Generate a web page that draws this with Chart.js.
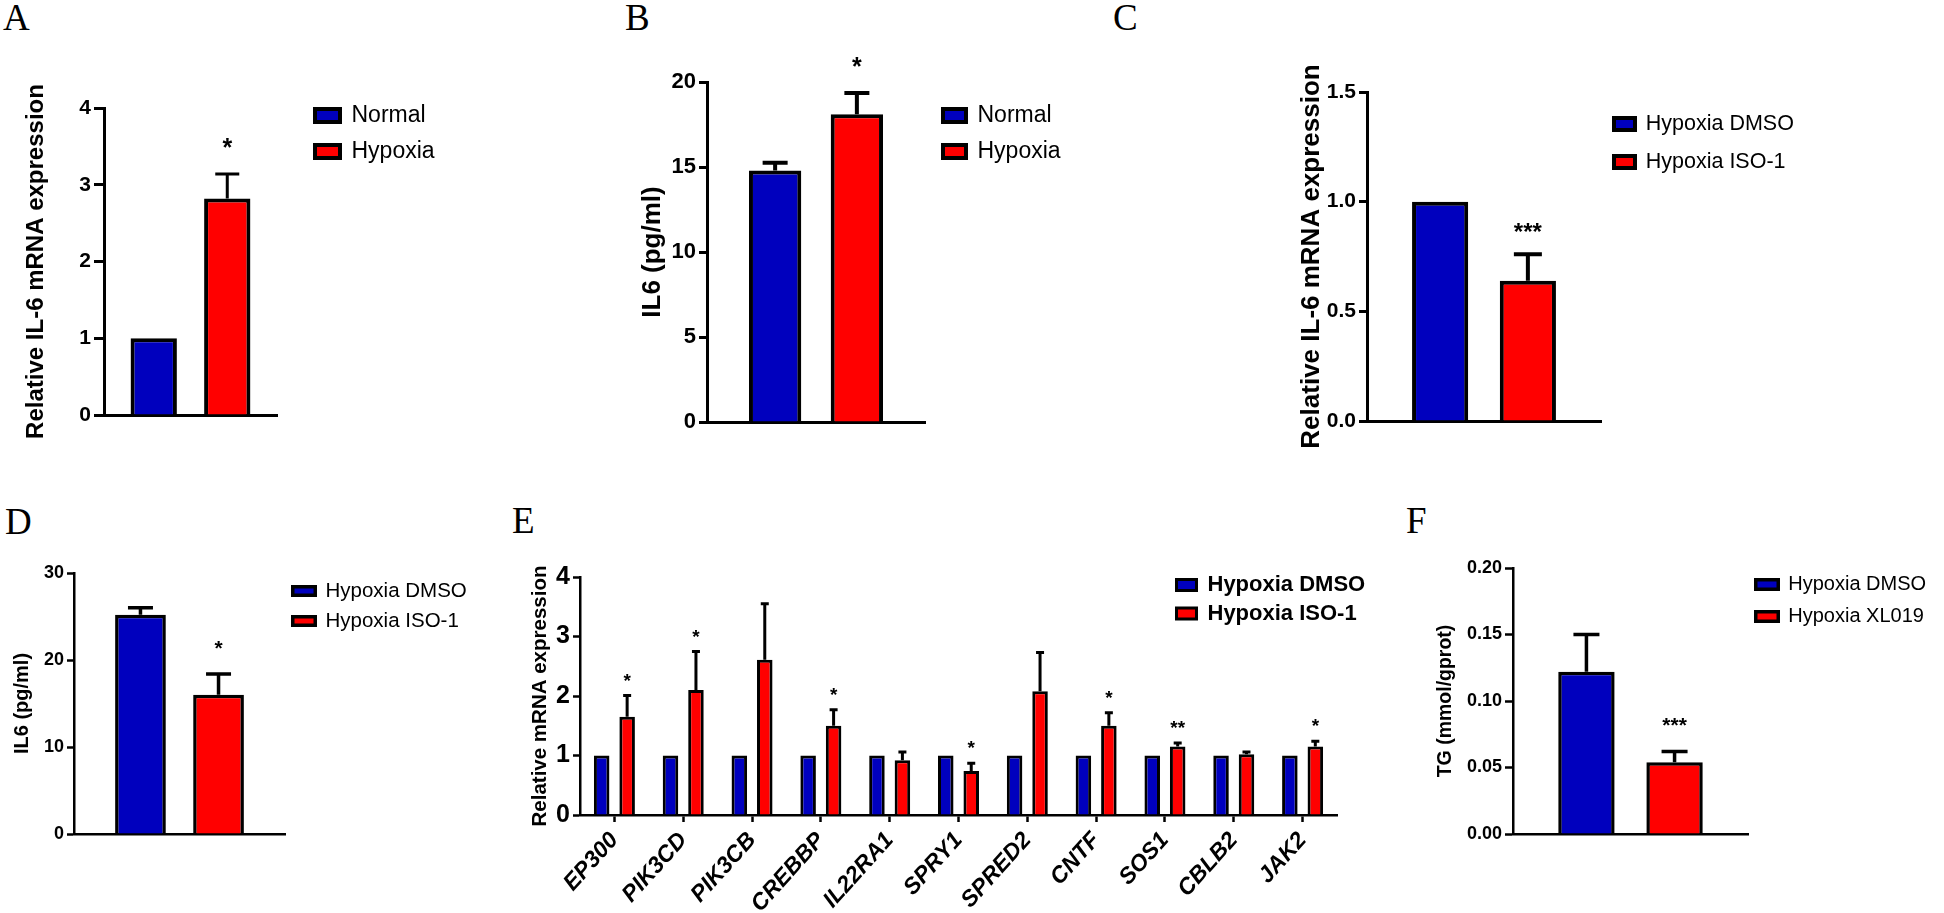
<!DOCTYPE html>
<html>
<head>
<meta charset="utf-8">
<script src="https://cdn.jsdelivr.net/npm/chart.js@4.4.1/dist/chart.umd.min.js"></script>
<style>
  html, body { margin: 0; padding: 0; background: #fff; }
  body { width: 1944px; height: 913px; position: relative; overflow: hidden; }
  canvas { position: absolute; }
  .tag { position: absolute; font-family: 'Liberation Serif', 'Times New Roman', serif; font-size: 37px; line-height: 36px; color: #000; }
</style>
</head>
<body>
<div class="tag" style="left:3px;top:0px">A</div>
<div class="tag" style="left:625px;top:0px">B</div>
<div class="tag" style="left:1113px;top:0px">C</div>
<div class="tag" style="left:5px;top:504px">D</div>
<div class="tag" style="left:512px;top:503px">E</div>
<div class="tag" style="left:1406px;top:503px">F</div>

<canvas id="chartA" width="600" height="450" style="left:0px;top:0px"></canvas>
<canvas id="chartB" width="480" height="450" style="left:620px;top:0px"></canvas>
<canvas id="chartC" width="844" height="460" style="left:1100px;top:0px"></canvas>
<canvas id="chartD" width="500" height="453" style="left:0px;top:460px"></canvas>
<canvas id="chartE" width="895" height="453" style="left:500px;top:460px"></canvas>
<canvas id="chartF" width="549" height="453" style="left:1395px;top:460px"></canvas>

<script>
// ---- data ----
// A: IL-6 mRNA, normal vs hypoxia
const groupsA = ['Normal', 'Hypoxia'];
const valuesA = [1.0, 2.82];
const errorsA = [0, 0.32];
const starsA = ['', '*'];
const ticksA = [0, 1, 2, 3, 4];

// B: IL6 protein
const groupsB = ['Normal', 'Hypoxia'];
const valuesB = [14.8, 18.1];
const errorsB = [0.45, 1.25];
const starsB = ['', '*'];
const ticksB = [0, 5, 10, 15, 20];

// C: IL-6 mRNA with ISO-1
const groupsC = ['Hypoxia DMSO', 'Hypoxia ISO-1'];
const valuesC = [1.0, 0.64];
const errorsC = [0, 0.12];
const starsC = ['', '***'];
const ticksC = [0, 0.5, 1.0, 1.5];

// D: IL6 protein with ISO-1
const groupsD = ['Hypoxia DMSO', 'Hypoxia ISO-1'];
const valuesD = [25.2, 16.0];
const errorsD = [0.8, 2.4];
const starsD = ['', '*'];
const ticksD = [0, 10, 20, 30];

// E: gene panel
const genesE = ['EP300', 'PIK3CD', 'PIK3CB', 'CREBBP', 'IL22RA1', 'SPRY1', 'SPRED2', 'CNTF', 'SOS1', 'CBLB2', 'JAK2'];
const groupsE = ['Hypoxia DMSO', 'Hypoxia ISO-1'];
const dmsoE = [1, 1, 1, 1, 1, 1, 1, 1, 1, 1, 1];
const isoE = [1.65, 2.10, 2.61, 1.50, 0.92, 0.74, 2.08, 1.50, 1.15, 1.02, 1.15];
const isoErrE = [0.36, 0.65, 0.94, 0.27, 0.14, 0.13, 0.65, 0.22, 0.06, 0.04, 0.09];
const isoStarsE = ['*', '*', '', '*', '', '*', '', '*', '**', '', '*'];
const ticksE = [0, 1, 2, 3, 4];

// F: TG
const groupsF = ['Hypoxia DMSO', 'Hypoxia XL019'];
const valuesF = [0.122, 0.054];
const errorsF = [0.028, 0.008];
const starsF = ['', '***'];
const ticksF = [0, 0.05, 0.10, 0.15, 0.20];

const BLUE = '#0000BE';
const RED = '#FF0000';
const SANS = "'Liberation Sans', Arial, sans-serif";

Chart.defaults.font.family = SANS;
Chart.defaults.color = '#000';

// moves the legend (drawn in chartArea mode) to the right of the plot
const legendMover = {
    id: 'legendMover',
    afterLayout(chart, args, opts) {
        const lg = chart.legend;
        if (!lg) return;
        const lab = chart.options.plugins.legend.labels;
        lg.left = opts.x - lab.padding;
        lg.right = lg.left + 1000;
        lg.top = opts.y - lab.font.size / 2 - lab.padding;
        lg.bottom = lg.top + 1000;
    }
};

// upward SEM bars and significance marks
const errorBars = {
    id: 'errorBars',
    afterDatasetsDraw(chart, args, opts) {
        const ctx = chart.ctx;
        const yScale = chart.scales.y;
        chart.data.datasets.forEach((ds, di) => {
            const meta = chart.getDatasetMeta(di);
            meta.data.forEach((bar, i) => {
                const v = ds.data[i];
                const err = ds.errors ? ds.errors[i] : 0;
                const top = yScale.getPixelForValue(v + err);
                if (err > 0) {
                    ctx.save();
                    ctx.strokeStyle = '#000';
                    ctx.lineWidth = opts.lineWidth;
                    ctx.beginPath();
                    ctx.moveTo(bar.x, bar.y);
                    ctx.lineTo(bar.x, top);
                    ctx.moveTo(bar.x - opts.cap / 2, top);
                    ctx.lineTo(bar.x + opts.cap / 2, top);
                    ctx.stroke();
                    ctx.restore();
                }
                const star = ds.stars ? ds.stars[i] : '';
                if (star) {
                    ctx.save();
                    ctx.fillStyle = '#000';
                    ctx.font = 'bold ' + opts.starSize + 'px ' + SANS;
                    ctx.textAlign = 'center';
                    ctx.textBaseline = 'alphabetic';
                    ctx.fillText(star, bar.x, top - opts.starGap + 0.59 * opts.starSize);
                    ctx.restore();
                }
            });
        });
    }
};

function pairSets(groups, values, errors, stars, bw) {
    const colors = [BLUE, RED];
    return groups.map((g, i) => ({
        label: g,
        data: [values[i]],
        errors: [errors[i]],
        stars: [stars[i]],
        backgroundColor: colors[i],
        borderColor: '#000',
        borderWidth: bw
    }));
}

function buildChart(id, o) {
    const el = document.getElementById(id);
    const left = parseFloat(el.style.left);
    const top = parseFloat(el.style.top);
    const W = el.width, H = el.height;
    const a = o.area;
    const titleLH = o.titleSize * 1.2;
    const lg = o.legend;
    const lw = o.bw;

    const xScale = {
        afterFit: s => { s.height = top + H - a.b; },
        border: { color: '#000', width: o.axisW },
        grid: { display: false },
        ticks: { display: false }
    };
    if (o.xLabels) {
        xScale.grid = { display: true, drawOnChartArea: false, offset: false, tickLength: o.tickLen, tickWidth: o.axisW, tickColor: '#000' };
        xScale.ticks = {
            display: true, autoSkip: false, maxRotation: o.xRot, minRotation: o.xRot, padding: o.xPad,
            font: { size: o.xLabelSize, weight: 'bold', style: 'italic' }
        };
    }

    return new Chart(el, {
        type: 'bar',
        data: { labels: o.labels, datasets: o.datasets },
        options: {
            responsive: false,
            animation: false,
            layout: { padding: { left: 0, top: a.t - top, right: left + W - a.r, bottom: 0 } },
            datasets: { bar: { categoryPercentage: o.cat, barPercentage: o.bar } },
            plugins: {
                tooltip: { enabled: false },
                legend: {
                    position: 'chartArea',
                    align: 'start',
                    labels: {
                        boxWidth: lg.w - lw,
                        boxHeight: lg.h - lw,
                        padding: lg.pitch - lg.size,
                        color: '#000',
                        font: { size: lg.size, weight: lg.weight }
                    }
                },
                legendMover: { x: lg.x + lw / 2 - left, y: lg.y - top },
                errorBars: o.err
            },
            scales: {
                x: xScale,
                y: {
                    min: 0,
                    max: o.ticks[o.ticks.length - 1],
                    afterBuildTicks: s => { s.ticks = o.ticks.map(v => ({ value: v })); },
                    afterFit: s => { s.width = a.l - left; },
                    border: { color: '#000', width: o.axisW },
                    grid: { drawOnChartArea: false, tickLength: o.tickLen, tickWidth: o.axisW, tickColor: '#000' },
                    ticks: {
                        padding: 3,
                        font: { size: o.tickSize, weight: 'bold' },
                        callback: v => Number(v).toFixed(o.decimals)
                    },
                    title: {
                        display: true,
                        text: o.yTitle,
                        font: { size: o.titleSize, weight: 'bold' },
                        padding: { top: o.titleX - left - titleLH / 2, bottom: 0 }
                    }
                }
            }
        },
        plugins: [legendMover, errorBars]
    });
}

// A
buildChart('chartA', {
    labels: [''], datasets: pairSets(groupsA, valuesA, errorsA, starsA, 4), bw: 4,
    area: { l: 104, t: 108, r: 277, b: 415 }, ticks: ticksA, decimals: 0,
    tickSize: 21, tickLen: 10, axisW: 3,
    yTitle: 'Relative IL-6 mRNA expression', titleSize: 24, titleX: 36,
    cat: 0.85, bar: 0.63,
    legend: { x: 313, y: 115.5, w: 29, h: 17, size: 23, weight: 'normal', pitch: 36 },
    err: { lineWidth: 3, cap: 24, starSize: 25, starGap: 33 }
});

// B
buildChart('chartB', {
    labels: [''], datasets: pairSets(groupsB, valuesB, errorsB, starsB, 4), bw: 4,
    area: { l: 707, t: 82, r: 925, b: 422 }, ticks: ticksB, decimals: 0,
    tickSize: 22, tickLen: 8, axisW: 3,
    yTitle: 'IL6 (pg/ml)', titleSize: 26, titleX: 653,
    cat: 0.75, bar: 0.64,
    legend: { x: 941, y: 115.5, w: 27, h: 17, size: 23, weight: 'normal', pitch: 36 },
    err: { lineWidth: 4, cap: 25, starSize: 25, starGap: 33 }
});

// C
buildChart('chartC', {
    labels: [''], datasets: pairSets(groupsC, valuesC, errorsC, starsC, 4), bw: 4,
    area: { l: 1367, t: 92, r: 1601, b: 421 }, ticks: ticksC, decimals: 1,
    tickSize: 21, tickLen: 8, axisW: 3,
    yTitle: 'Relative IL-6 mRNA expression', titleSize: 26, titleX: 1312,
    cat: 0.75, bar: 0.64,
    legend: { x: 1612, y: 124, w: 25, h: 16, size: 21.5, weight: 'normal', pitch: 38 },
    err: { lineWidth: 4, cap: 28, starSize: 24, starGap: 28 }
});

// D
buildChart('chartD', {
    labels: [''], datasets: pairSets(groupsD, valuesD, errorsD, starsD, 3.5), bw: 3.5,
    area: { l: 74, t: 573, r: 285, b: 834 }, ticks: ticksD, decimals: 0,
    tickSize: 18, tickLen: 7, axisW: 2.5,
    yTitle: 'IL6 (pg/ml)', titleSize: 20, titleX: 22,
    cat: 0.74, bar: 0.65,
    legend: { x: 291, y: 591, w: 26, h: 12, size: 20.5, weight: 'normal', pitch: 30 },
    err: { lineWidth: 3.5, cap: 25, starSize: 21, starGap: 31 }
});

// E
buildChart('chartE', {
    labels: genesE,
    datasets: [
        { label: groupsE[0], data: dmsoE, backgroundColor: BLUE, borderColor: '#000', borderWidth: 3 },
        { label: groupsE[1], data: isoE, errors: isoErrE, stars: isoStarsE, backgroundColor: RED, borderColor: '#000', borderWidth: 3 }
    ],
    bw: 3,
    area: { l: 580, t: 577, r: 1337, b: 815 }, ticks: ticksE, decimals: 0,
    tickSize: 25, tickLen: 7, axisW: 2.5,
    xLabels: true, xRot: 48, xLabelSize: 23, xPad: 5,
    yTitle: 'Relative mRNA expression', titleSize: 20.5, titleX: 540,
    cat: 0.74, bar: 0.61,
    legend: { x: 1175, y: 585, w: 23, h: 14, size: 22, weight: 'bold', pitch: 28.5 },
    err: { lineWidth: 3, cap: 8, starSize: 19, starGap: 20 }
});

// F
buildChart('chartF', {
    labels: [''], datasets: pairSets(groupsF, valuesF, errorsF, starsF, 3.5), bw: 3.5,
    area: { l: 1513, t: 568, r: 1748, b: 834 }, ticks: ticksF, decimals: 2,
    tickSize: 18, tickLen: 8, axisW: 2.5,
    yTitle: 'TG (mmol/gprot)', titleSize: 19.5, titleX: 1446,
    cat: 0.75, bar: 0.64,
    legend: { x: 1754, y: 584.5, w: 26, h: 13, size: 20, weight: 'normal', pitch: 32 },
    err: { lineWidth: 3.5, cap: 26, starSize: 21, starGap: 32 }
});
</script>
</body>
</html>
